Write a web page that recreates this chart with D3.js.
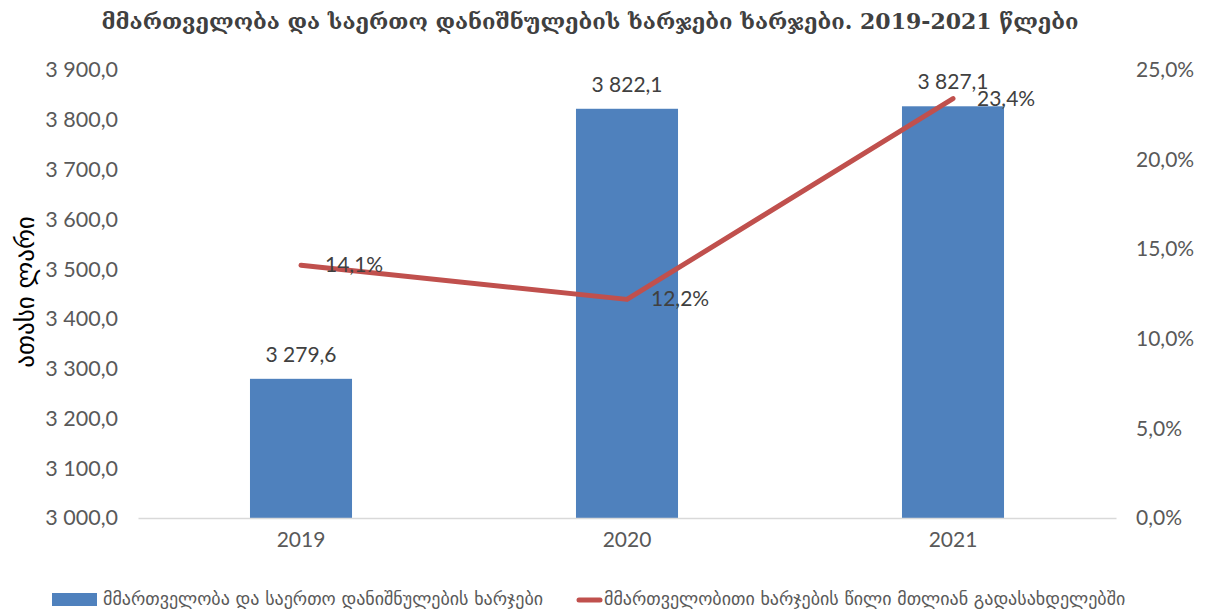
<!DOCTYPE html>
<html>
<head>
<meta charset="utf-8">
<script src="https://cdn.jsdelivr.net/npm/d3@7"></script>
<style>
  body { margin: 0; background: #fff; }
  text { font-family: Lato, "DejaVu Sans", sans-serif; }
</style>
</head>
<body>
<div id="chart"></div>
<script>
const years = ["2019", "2020", "2021"];
const spending = [3279.6, 3822.1, 3827.1];     // ათასი ლარი
const share = [14.1, 12.2, 23.4];              // %
const leftTicks = [3000, 3100, 3200, 3300, 3400, 3500, 3600, 3700, 3800, 3900];
const rightTicks = [0, 5, 10, 15, 20, 25];
const titleText = "მმართველობა და საერთო დანიშნულების ხარჯები ხარჯები. 2019-2021 წლები";
const yTitle = "ათასი ლარი";
const barName = "მმართველობა და საერთო დანიშნულების ხარჯები";
const lineName = "მმართველობითი ხარჯების წილი მთლიან გადასახდელებში";

const width = 1207, height = 613;
const margin = { top: 70, right: 91, bottom: 95, left: 138 };

const loc = d3.formatLocale({ decimal: ",", thousands: " ", grouping: [3], currency: ["", ""] });
const fmtNum = loc.format(",.1f");
const fmtPct = d => loc.format(".1f")(d) + "%";

const svg = d3.select("#chart").append("svg")
  .attr("width", width)
  .attr("height", height);

const x = d3.scaleBand()
  .domain(years)
  .range([margin.left, width - margin.right])
  .paddingInner(0.687)
  .paddingOuter(0.3435);
const xc = d => x(d) + x.bandwidth() / 2;

const yL = d3.scaleLinear().domain([3000, 3900]).range([height - margin.bottom, margin.top]);
const yR = d3.scaleLinear().domain([0, 25]).range([height - margin.bottom, margin.top]);

// title
svg.append("text")
  .attr("x", 590).attr("y", 29)
  .attr("text-anchor", "middle")
  .style("font-family", "'DejaVu Serif', serif")
  .style("font-weight", "bold")
  .style("font-size", "22px")
  .attr("fill", "#404040")
  .text(titleText);

// left axis
const gL = svg.append("g")
  .attr("transform", `translate(${margin.left},0)`)
  .call(d3.axisLeft(yL).tickValues(leftTicks).tickFormat(fmtNum).tickSize(0).tickPadding(20));
gL.select(".domain").remove();
gL.selectAll("text").style("font-size", "21.5px").attr("fill", "#595959");

// right axis
const gR = svg.append("g")
  .attr("transform", `translate(${width - margin.right},0)`)
  .call(d3.axisRight(yR).tickValues(rightTicks).tickFormat(fmtPct).tickSize(0).tickPadding(20));
gR.select(".domain").remove();
gR.selectAll("text").style("font-size", "21px").attr("fill", "#595959");

// y title
svg.append("text")
  .attr("transform", `translate(34,${(margin.top + height - margin.bottom) / 2 - 2}) rotate(-90)`)
  .attr("text-anchor", "middle")
  .style("font-family", "'DejaVu Sans', sans-serif")
  .style("font-size", "25px")
  .attr("fill", "#000")
  .text(yTitle);

// bars
svg.selectAll("rect.bar")
  .data(spending)
  .enter()
  .append("rect")
  .attr("class", "bar")
  .attr("x", (d, i) => x(years[i]))
  .attr("width", x.bandwidth())
  .attr("y", d => yL(d))
  .attr("height", d => yL(3000) - yL(d))
  .attr("fill", "#4F81BD");

// x axis
const gX = svg.append("g")
  .attr("transform", `translate(0,${height - margin.bottom})`)
  .call(d3.axisBottom(x).tickSize(0).tickPadding(14));
gX.select(".domain").attr("stroke", "#d9d9d9").attr("stroke-width", 1.5);
gX.selectAll("text").style("font-size", "21px").attr("fill", "#595959");

// bar labels
svg.selectAll("text.barlab")
  .data(spending)
  .enter()
  .append("text")
  .attr("class", "barlab")
  .attr("x", (d, i) => xc(years[i]))
  .attr("y", d => yL(d) - 17)
  .attr("text-anchor", "middle")
  .style("font-size", "21px")
  .attr("fill", "#404040")
  .text(d => fmtNum(d));

// line
const line = d3.line()
  .x((d, i) => xc(years[i]))
  .y(d => yR(d));
svg.append("path")
  .datum(share)
  .attr("d", line)
  .attr("fill", "none")
  .attr("stroke", "#C0504D")
  .attr("stroke-width", 5)
  .attr("stroke-linecap", "round")
  .attr("stroke-linejoin", "round");

svg.selectAll("text.linelab")
  .data(share)
  .enter()
  .append("text")
  .attr("class", "linelab")
  .attr("x", (d, i) => xc(years[i]) + 24)
  .attr("y", d => yR(d) + 7)
  .style("font-size", "21px")
  .attr("fill", "#404040")
  .text(d => fmtPct(d));

// legend
const lg = svg.append("g").attr("transform", "translate(0,600)");
lg.append("rect").attr("x", 52).attr("y", -7).attr("width", 45).attr("height", 13).attr("fill", "#4F81BD");
lg.append("text").attr("x", 103).attr("y", 5)
  .style("font-family", "'DejaVu Sans', sans-serif")
  .style("font-size", "18px").attr("fill", "#595959").text(barName);
lg.append("line").attr("x1", 579).attr("x2", 600).attr("y1", 0).attr("y2", 0)
  .attr("stroke", "#C0504D").attr("stroke-width", 5).attr("stroke-linecap", "round");
lg.append("text").attr("x", 604).attr("y", 5)
  .style("font-family", "'DejaVu Sans', sans-serif")
  .style("font-size", "18px").attr("fill", "#595959").text(lineName);
</script>
</body>
</html>
